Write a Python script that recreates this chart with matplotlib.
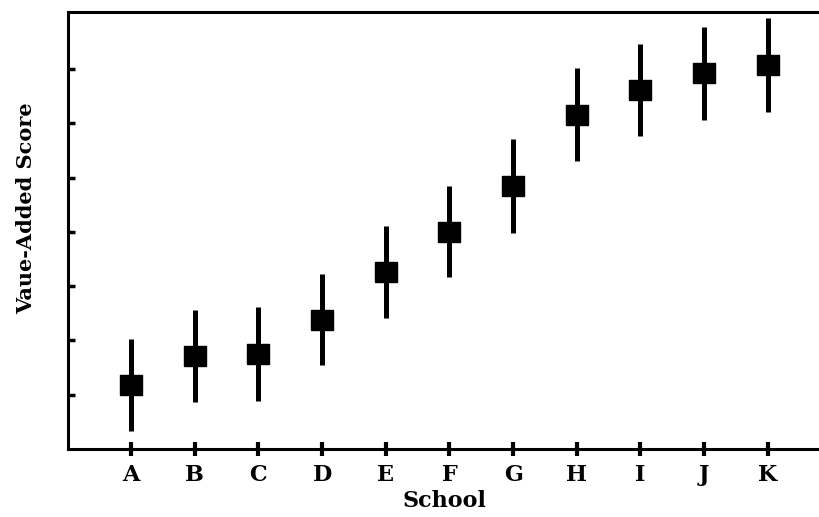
import matplotlib
matplotlib.use("Agg")
import matplotlib.pyplot as plt

# schools and their estimated value-added scores with interval half-widths
schools = ["A", "B", "C", "D", "E", "F", "G", "H", "I", "J", "K"]
scores = [1.18, 1.71, 1.75, 2.38, 3.26, 4.00, 4.84, 6.16, 6.61, 6.92, 7.07]
errors = [0.85, 0.85, 0.86, 0.84, 0.85, 0.84, 0.86, 0.85, 0.85, 0.86, 0.87]
y_ticks = [1, 2, 3, 4, 5, 6, 7]

plt.rcParams["font.family"] = "DejaVu Serif"
plt.rcParams["font.weight"] = "bold"

fig = plt.figure(figsize=(8.2, 5.17), dpi=100)
ax = fig.add_axes([0.083, 0.1315, 0.917, 0.8455])

xs = list(range(1, len(schools) + 1))
# slightly wide square markers
box = [(-1.1, -1), (1.1, -1), (1.1, 1), (-1.1, 1), (-1.1, -1)]
ax.errorbar(xs, scores, yerr=errors, fmt="none", ecolor="black",
            elinewidth=3.6, capsize=0)
ax.plot(xs, scores, linestyle="none", marker=box, color="black",
        markersize=16)

ax.set_xlim(0.01, 11.82)
ax.set_ylim(0, 8.05)
ax.set_xticks(xs)
ax.set_xticklabels(schools, fontsize=16, fontweight="bold")
ax.set_yticks(y_ticks)
ax.set_yticklabels([])

ax.tick_params(axis="x", direction="inout", length=10, width=3, pad=6)
ax.tick_params(axis="y", direction="in", length=5, width=2.5)

for side in ["left", "top", "bottom"]:
    ax.spines[side].set_linewidth(2.2)
ax.spines["right"].set_visible(False)

ax.set_xlabel("School", fontsize=16, fontweight="bold", labelpad=3)
ax.set_ylabel("Vaue-Added Score", fontsize=15, fontweight="bold")
ax.yaxis.set_label_coords(-0.043, 0.55)

fig.savefig("out.png", dpi=100)
